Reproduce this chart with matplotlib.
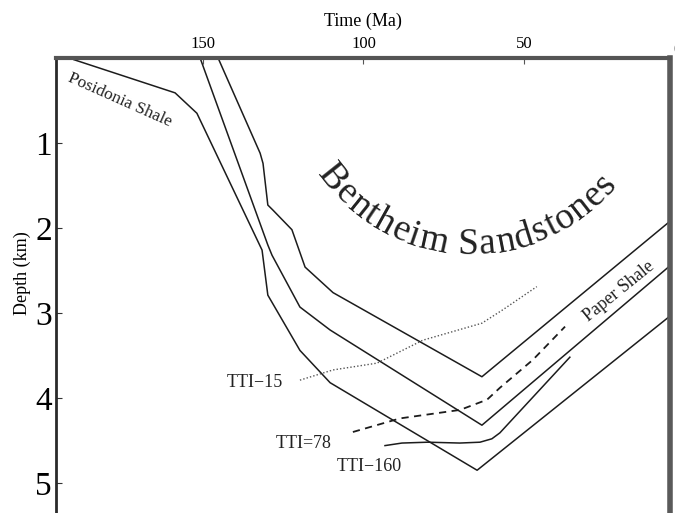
"""
Burial history plot: Bentheim Sandstones / Posidonia Shale with TTI contours.
"""
import numpy as np
import matplotlib
matplotlib.use('Agg')
import matplotlib.pyplot as plt
from matplotlib.font_manager import FontProperties
from matplotlib.transforms import IdentityTransform, offset_copy, blended_transform_factory

# ============================================================
# Data (age in Ma, depth in km)
# ============================================================
age_top = [145.3, 132.2, 131.3, 129.8, 128.2, 122.3, 118.2, 109.5, 63.1, 0]
depth_top = [0.0, 1.12, 1.24, 1.73, 1.79, 2.02, 2.46, 2.76, 3.75, 1.78]

age_mid = [150.9, 129.8, 128.5, 119.8, 110.4, 63.1, 0]
depth_mid = [0.0, 2.20, 2.32, 2.93, 3.20, 4.32, 2.30]

age_posidonia = [190.2, 158.7, 151.9, 131.6, 129.8, 119.8, 110.4, 64.6, 0]
depth_posidonia = [0.02, 0.41, 0.65, 2.26, 2.79, 3.44, 3.82, 4.85, 2.90]

age_tti15 = [119.8, 109.5, 95.8, 81.5, 63.1, 56.5, 46.0]
depth_tti15 = [3.79, 3.67, 3.59, 3.32, 3.12, 2.96, 2.69]

age_tti78 = [103.3, 88.6, 69.9, 61.5, 57.5, 47.2, 37.2]
depth_tti78 = [4.40, 4.24, 4.14, 4.02, 3.88, 3.55, 3.16]

age_tti160 = [93.3, 88.0, 80.0, 70.0, 63.7, 60.0, 57.5, 35.7]
depth_tti160 = [4.56, 4.53, 4.52, 4.53, 4.52, 4.48, 4.41, 3.52]

time_ticks = [150, 100, 50]
depth_ticks = [1, 2, 3, 4, 5]

tti_labels = ['TTI\u221215', 'TTI=78', 'TTI\u2212160']
tti_label_age = [133.8, 118.8, 98.3]
tti_label_depth = [3.82, 4.53, 4.81]

# ============================================================
# Style
# ============================================================
SERIF = 'Liberation Serif'
LINE = '#1c1c1c'
plt.rcParams.update({
    'font.family': SERIF,
    'text.color': '#222222',
})

fig = plt.figure(figsize=(6.75, 5.13), dpi=100)
ax = fig.add_axes([56 / 675, 0, 614 / 675, 455 / 513])
ax.set_xlim(195.8, 4.5)
ax.set_ylim(5.353, 0)

# Burial curves
ax.plot(age_top, depth_top, color=LINE, lw=1.1)
ax.plot(age_mid, depth_mid, color=LINE, lw=1.1)
ax.plot(age_posidonia, depth_posidonia, color=LINE, lw=1.1)

# TTI contours
ax.plot(age_tti15, depth_tti15, color='#555555', lw=1.0, linestyle=(0, (1, 1.5)))
ax.plot(age_tti78, depth_tti78, color=LINE, lw=1.3, linestyle=(0, (4, 3)))
ax.plot(age_tti160, depth_tti160, color=LINE, lw=1.1)

for lab, a, d in zip(tti_labels, tti_label_age, tti_label_depth):
    ax.text(a, d, lab, fontsize=13, ha='center', va='center')

# Formation labels
ax.text(175.9, 0.49, 'Posidonia Shale', fontsize=12.5, rotation=-24,
        rotation_mode='anchor', ha='center', va='center')
ax.text(20.4, 2.75, 'Paper Shale', fontsize=13, rotation=39,
        rotation_mode='anchor', ha='center', va='center')

# Curved "Bentheim Sandstones"
phrase = 'Bentheim Sandstones'
fp = FontProperties(family=SERIF, size=27)
renderer = fig.canvas.get_renderer()
def text_w(s):
    return renderer.get_text_width_height_descent(s, fp, ismath=False)[0]
centers = []
for i, ch in enumerate(phrase):
    centers.append(text_w(phrase[:i + 1]) - text_w(ch) / 2)
centers = np.array(centers)
phi0, phi1 = np.radians(-51.5), np.radians(48.9)
phis = phi0 + (centers - centers[0]) / (centers[-1] - centers[0]) * (phi1 - phi0)
cx, cy = ax.transData.transform((66.5, 0.106))
radius = 178
for ch, phi in zip(phrase, phis):
    if ch == ' ':
        continue
    ax.text(cx + radius * np.sin(phi), cy - radius * np.cos(phi), ch,
            fontproperties=fp, rotation=np.degrees(phi), rotation_mode='anchor',
            ha='center', va='center', transform=IdentityTransform())

# ============================================================
# Axes
# ============================================================
ax.xaxis.tick_top()
ax.xaxis.set_label_position('top')
ax.set_xticks(time_ticks)
ax.tick_params(axis='x', direction='in', length=4, labelsize=12, pad=4,
               color='#555555')
# "0" label sits at the right border, mostly cut off as in the original scan
zero_tr = offset_copy(blended_transform_factory(ax.transData, ax.transAxes),
                      fig=fig, x=-7, y=0, units='dots')
ax.text(0, 1.0, '0', fontsize=12, ha='center', va='bottom', transform=zero_tr,
        clip_on=False)

ax.set_yticks(depth_ticks)
ax.tick_params(axis='y', direction='in', length=4, labelsize=24, pad=3,
               color='#333333')

ax.set_xlabel('Time (Ma)', fontsize=13, va='center')
ax.xaxis.set_label_coords(0.5, 1 + (58 - 21) / 455)
ax.set_ylabel('Depth (km)', fontsize=13, va='center')
ax.yaxis.set_label_coords(-34 / 614, 1 - (273 - 58) / 455)

ax.spines['bottom'].set_visible(False)
ax.spines['top'].set_color('#555555')
ax.spines['top'].set_linewidth(3)
ax.spines['right'].set_color('#5a5a5a')
ax.spines['right'].set_linewidth(4)
ax.spines['left'].set_color('#2a2a2a')
ax.spines['left'].set_linewidth(2)

plt.savefig('out.png', dpi=100)
plt.close()
